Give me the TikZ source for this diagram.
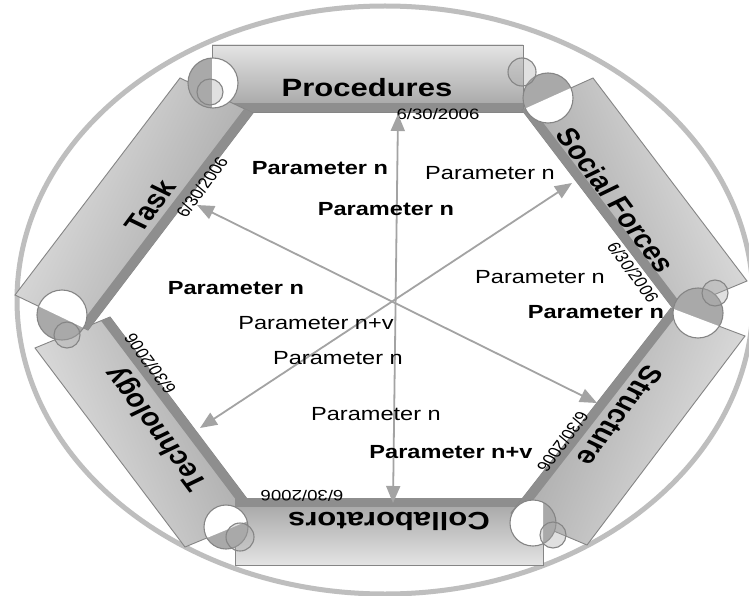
\documentclass[tikz,border=0pt]{standalone}
\usepackage{fontspec}
\setmainfont{Liberation Sans}
\usetikzlibrary{arrows.meta,calc}
\definecolor{ringc}{HTML}{BEBEBE}
\definecolor{edgec}{HTML}{858585}
\definecolor{stripc}{HTML}{8E8E8E}
\definecolor{barlight}{HTML}{E4E4E4}
\definecolor{bardark}{HTML}{A2A2A2}
\definecolor{hingec}{HTML}{A9A9A9}
\definecolor{arrc}{HTML}{A3A3A3}
\begin{document}
\begin{tikzpicture}[x=1pt,y=-1pt,
  barfill/.style={draw=edgec, line width=0.9pt, shading=axis, top color=barlight, bottom color=bardark},
  stripfill/.style={fill=stripc, draw=none},
  hingebig/.style={draw=edgec, line width=1.1pt},
  hingesmall/.style={draw=edgec, line width=1.1pt, fill=hingec, fill opacity=0.35},
  arr/.style={draw=arrc, line width=1.8pt, {Triangle[length=17pt,width=14pt]}-{Triangle[length=17pt,width=14pt]}},
  barl/.style={font=\bfseries\fontsize{25}{28}\selectfont, inner sep=0pt, transform shape},
  datel/.style={font=\fontsize{15}{17}\selectfont, inner sep=0pt, transform shape},
  pr/.style={font=\fontsize{19}{22}\selectfont, inner sep=0pt, xscale=1.24, transform shape},
  pb/.style={font=\bfseries\fontsize{19}{22}\selectfont, inner sep=0pt, xscale=1.24, transform shape}]
\useasboundingbox (0,0) rectangle (749,596);
\fill[white] (0,0) rectangle (749,596);
% outer ring
\draw[ringc, line width=5pt] (385,300) ellipse [x radius=368, y radius=294];
% bar corners: 1,2 outer ; 3,4 inner
\coordinate (P1) at (212,45);  \coordinate (P2) at (523,45);  \coordinate (P3) at (523,112); \coordinate (P4) at (212,112);
\coordinate (S1) at (593,78);  \coordinate (S2) at (747,281); \coordinate (S3) at (675,311); \coordinate (S4) at (522,110);
\coordinate (T1) at (745,336); \coordinate (T2) at (587,545); \coordinate (T3) at (511,513); \coordinate (T4) at (671,308);
\coordinate (C1) at (543,565); \coordinate (C2) at (235,565); \coordinate (C3) at (235,498); \coordinate (C4) at (543,498);
\coordinate (G1) at (185,547); \coordinate (G2) at (35,348);  \coordinate (G3) at (110,317); \coordinate (G4) at (260,516);
\coordinate (K1) at (15,295);  \coordinate (K2) at (180,78);  \coordinate (K3) at (253,113); \coordinate (K4) at (88,330);
% bars
\path[barfill, shading angle=0] (P1)--(P2)--(P3)--(P4)--cycle;
\fill[stripfill] (P4)--(P3)--($(P3)!0.13!(P2)$)--($(P4)!0.13!(P1)$)--cycle;
\path[barfill, shading angle=112] (G1)--(G2)--(G3)--(G4)--cycle;
\fill[stripfill] (G4)--(G3)--($(G3)!0.12!(G2)$)--($(G4)!0.12!(G1)$)--cycle;
\path[barfill, shading angle=180] (C1)--(C2)--(C3)--(C4)--cycle;
\fill[stripfill] (C4)--(C3)--($(C3)!0.13!(C2)$)--($(C4)!0.13!(C1)$)--cycle;
\path[barfill, shading angle=-112] (T1)--(T2)--(T3)--(T4)--cycle;
\fill[stripfill] (T4)--(T3)--($(T3)!0.12!(T2)$)--($(T4)!0.12!(T1)$)--cycle;
\path[barfill, shading angle=-67] (S1)--(S2)--(S3)--(S4)--cycle;
\fill[stripfill] (S4)--(S3)--($(S3)!0.12!(S2)$)--($(S4)!0.12!(S1)$)--cycle;
\path[barfill, shading angle=64] (K1)--(K2)--(K3)--(K4)--cycle;
\fill[stripfill] (K4)--(K3)--($(K3)!0.12!(K2)$)--($(K4)!0.12!(K1)$)--cycle;
% hinges
\coordinate (h1) at (213,83);  \coordinate (m1) at (210,92);
\coordinate (h2) at (548,98);  \coordinate (m2) at (522,72);
\coordinate (h3) at (698,313); \coordinate (m3) at (715,293);
\coordinate (h4) at (533,523); \coordinate (m4) at (553,535);
\coordinate (h5) at (226,527); \coordinate (m5) at (240,537);
\coordinate (h6) at (62,315);  \coordinate (m6) at (67,335);
\fill[hingec] (h1) circle (25);
\begin{scope}\clip (P1)--(P2)--(P3)--(P4)--cycle; \fill[white] (h1) circle (25);\end{scope}
\draw[hingebig] (h1) circle (25);
\fill[hingec] (h2) circle (25);
\begin{scope}\clip (S1)--(S2)--(S3)--(S4)--cycle; \fill[white] (h2) circle (25);\end{scope}
\draw[hingebig] (h2) circle (25);
\fill[hingec] (h3) circle (25);
\begin{scope}\clip (T1)--(T2)--(T3)--(T4)--cycle; \fill[white] (h3) circle (25);\end{scope}
\draw[hingebig] (h3) circle (25);
\fill[hingec] (h4) circle (23);
\begin{scope}\clip (C1)--(C2)--(C3)--(C4)--cycle; \fill[white] (h4) circle (23);\end{scope}
\draw[hingebig] (h4) circle (23);
\fill[hingec] (h5) circle (22);
\begin{scope}\clip (G1)--(G2)--(G3)--(G4)--cycle; \fill[white] (h5) circle (22);\end{scope}
\draw[hingebig] (h5) circle (22);
\fill[hingec] (h6) circle (25);
\begin{scope}\clip (K1)--(K2)--(K3)--(K4)--cycle; \fill[white] (h6) circle (25);\end{scope}
\draw[hingebig] (h6) circle (25);
\draw[hingesmall] (m1) circle (13);
\draw[hingesmall] (m2) circle (14);
\draw[hingesmall] (m3) circle (13);
\draw[hingesmall] (m4) circle (13);
\draw[hingesmall] (m5) circle (14);
\draw[hingesmall] (m6) circle (13);
% dates
\node[datel, xscale=1.24] (dP) at (438,114) {6/30/2006};
\node[datel, xscale=1.24, rotate=59] (dK) at (202,187) {6/30/2006};
\node[datel, xscale=1.24, rotate=-59] (dS) at (633,272) {6/30/2006};
\node[datel, xscale=1.24, rotate=-121] (dT) at (563,442) {6/30/2006};
\node[datel, xscale=1.24, rotate=121] (dG) at (150,364) {6/30/2006};
\node[datel, xscale=1.24, rotate=180] (dC) at (302,496) {6/30/2006};
% bar labels
\node[barl, xscale=1.24] (nP) at (367,88) {Procedures};
\node[barl, xscale=1.24, rotate=59] (nK) at (150,206) {Task};
\node[barl, xscale=1.24, rotate=-59] (nS) at (616,200) {Social Forces};
\node[barl, xscale=1.24, rotate=-121] (nT) at (620,416) {Structure};
\node[barl, xscale=1.24, rotate=121] (nG) at (157,428) {Technology};
\node[barl, xscale=1.24, rotate=180] (nC) at (389,521) {Collaborators};
% arrows
\coordinate (aTop) at (398,114); \coordinate (aBot) at (393,503);
\coordinate (aK) at (197,205);   \coordinate (aR) at (597,403);
\coordinate (aS) at (572,183);   \coordinate (aG) at (200,428);
\draw[arr] (aTop) -- (aBot);
\draw[arr] (aK) -- (aR);
\draw[arr] (aS) -- (aG);
% parameter labels
\node[pb] (p1) at (320,168) {Parameter n};
\node[pr] (p2) at (490,173) {Parameter n};
\node[pb] (p3) at (386,209) {Parameter n};
\node[pb] (p4) at (236,288) {Parameter n};
\node[pr] (p5) at (540,277) {Parameter n};
\node[pb] (p6) at (596,312) {Parameter n};
\node[pr] (p7) at (316,323) {Parameter n+v};
\node[pr] (p8) at (338,358) {Parameter n};
\node[pr] (p9) at (376,414) {Parameter n};
\node[pb] (p10) at (451,452) {Parameter n+v};
\end{tikzpicture}
\end{document}
